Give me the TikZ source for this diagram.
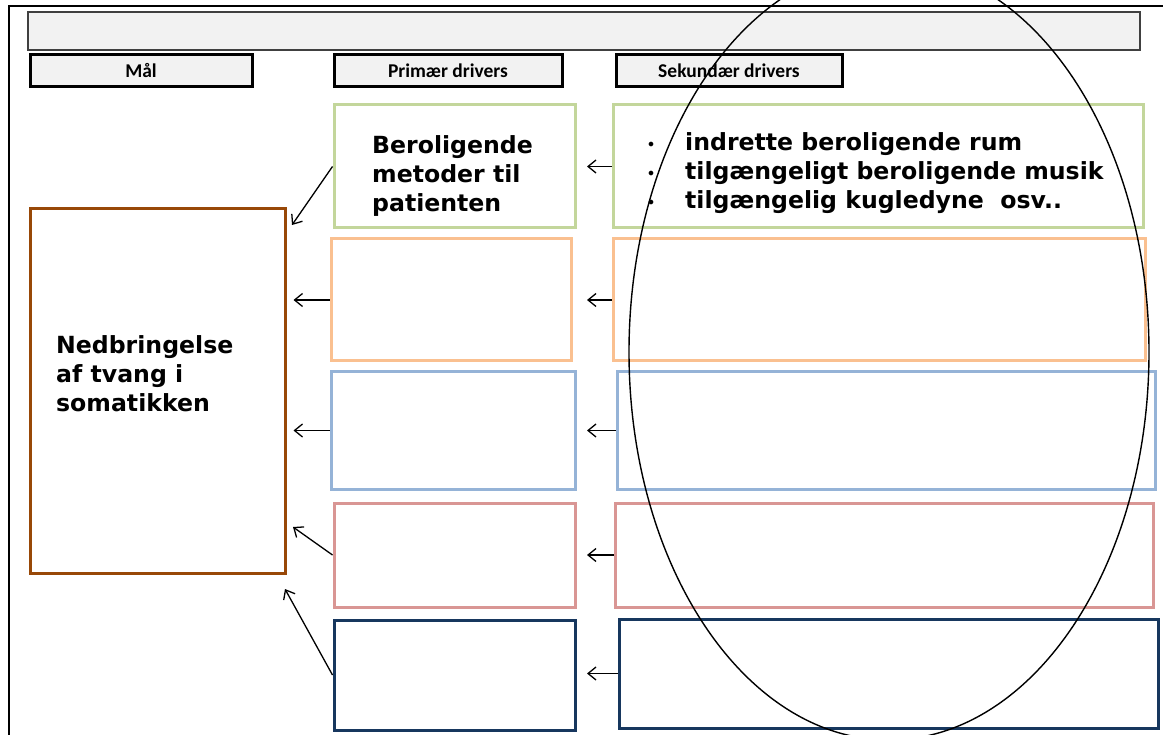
\documentclass[tikz,border=0pt]{standalone}
\usepackage{fontspec}
\setmainfont{DejaVu Sans}
\newfontfamily\hdrfont{Carlito}
\usepackage{tikz}
\usetikzlibrary{arrows.meta}
\definecolor{panelgray}{HTML}{F2F2F2}
\definecolor{sage}{HTML}{C3D69B}
\definecolor{apricot}{HTML}{FAC090}
\definecolor{skyblue}{HTML}{95B3D7}
\definecolor{rosepink}{HTML}{D99694}
\definecolor{navyblue}{HTML}{17375E}
\definecolor{rust}{HTML}{984807}
\newcommand{\itembullet}{\makebox[37pt][l]{\raisebox{3pt}{\fontsize{13}{13}\selectfont$\bullet$}}}

\begin{document}
\begin{tikzpicture}[x=1pt,y=-1pt,
    >={Straight Barb[length=8pt,width=13pt]},
    hdr/.style={draw, line width=3pt, fill=panelgray, inner sep=0pt,
      font=\hdrfont\bfseries\fontsize{19.5}{22}\selectfont},
    drv/.style={draw, line width=3pt, inner sep=0pt},
    big/.style={inner sep=0pt, anchor=north west, align=left,
      font=\bfseries\fontsize{23.6}{29}\selectfont},
    link/.style={->, line width=1.3pt}]

    \useasboundingbox (0,0) rectangle (1163,735);

    % Page frame
    \draw[line width=1.5pt] (9,735) -- (9,6) -- (1163,6);

    % Title bar
    \node[draw=black!75, line width=1.5pt, fill=panelgray, inner sep=0pt,
      minimum width=1112, minimum height=38] (title) at (584,31) {};

    % Column headers
    \node[hdr, minimum width=222, minimum height=32] (hdrmaal) at (141,71) {Mål};
    \node[hdr, minimum width=228, minimum height=32] (hdrprim) at (448,71) {Primær drivers};
    \node[hdr, minimum width=226, minimum height=32] (hdrsek) at (729,71) {Sekundær drivers};

    % Goal
    \node[drv, draw=rust, minimum width=255, minimum height=364] (goal) at (157.5,391) {};
    \node[big] (goaltxt) at (56,335) {Nedbringelse\\af tvang i\\somatikken};

    % Primary drivers
    \node[drv, draw=sage, minimum width=241, minimum height=123] (prim1) at (454.5,166.5) {};
    \node[drv, draw=apricot, minimum width=240, minimum height=122] (prim2) at (451,300) {};
    \node[drv, draw=skyblue, minimum width=244, minimum height=117] (prim3) at (453,430.5) {};
    \node[drv, draw=rosepink, minimum width=241, minimum height=104] (prim4) at (454.5,555) {};
    \node[drv, draw=navyblue, minimum width=241, minimum height=110] (prim5) at (454.5,675) {};
    \node[big] (prim1txt) at (372,135) {Beroligende\\metoder til\\patienten};

    % Secondary drivers
    \node[drv, draw=sage, minimum width=530, minimum height=123] (sek1) at (878,166.5) {};
    \node[drv, draw=apricot, minimum width=532, minimum height=122] (sek2) at (879,300) {};
    \node[drv, draw=skyblue, minimum width=538, minimum height=117] (sek3) at (886,430.5) {};
    \node[drv, draw=rosepink, minimum width=538, minimum height=104] (sek4) at (884,555) {};
    \node[drv, draw=navyblue, minimum width=539, minimum height=109] (sek5) at (888.5,673.5) {};
    \node[big] (sek1txt) at (648,132) {\itembullet indrette beroligende rum\\
      \itembullet tilgængeligt beroligende musik\\
      \itembullet tilgængelig kugledyne\ \ osv..};

    % arrows to goal
    \coordinate (tip1) at (292,225);
    \coordinate (tip4) at (293,527);
    \coordinate (tip5) at (285,589);
    \draw[link] (prim1.west) -- (tip1);
    \draw[link, shorten >=7pt] (prim2.west) -- (prim2.west -| goal.east);
    \draw[link, shorten >=7pt] (prim3.west) -- (prim3.west -| goal.east);
    \draw[link] (prim4.west) -- (tip4);
    \draw[link] (prim5.west) -- (tip5);

    % arrows to primary drivers
    \coordinate (tipcol) at (587,0);
    \foreach \i in {1,...,5}
      \draw[link] (sek\i.west) -- (sek\i.west -| tipcol);

    % ellipse
    \draw[line width=1.4pt] (889,352) ellipse [x radius=260, y radius=388];

\end{tikzpicture}
\end{document}
